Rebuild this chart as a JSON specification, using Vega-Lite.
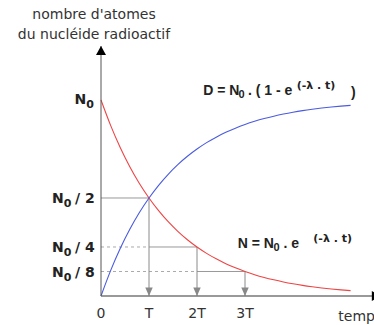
{
  "$schema": "https://vega.github.io/schema/vega-lite/v6.json",
  "width": 273,
  "height": 250,
  "autosize": {"type": "none"},
  "padding": {"left": 101, "top": 46, "right": 0, "bottom": 29},
  "background": "white",
  "config": {"view": {"stroke": null}},
  "encoding": {
    "x": {"field": "t", "type": "quantitative", "scale": {"domain": [0, 5.6875], "nice": false, "zero": false}, "axis": null},
    "y": {"field": "v", "type": "quantitative", "scale": {"domain": [0, 1.2755], "nice": false, "zero": false}, "axis": null}
  },
  "layer": [
    {
      "data": {"values": [{"t": 0, "t2": 1, "v": 0.25}, {"t": 0, "t2": 2, "v": 0.125}]},
      "mark": {"type": "rule", "color": "#aaaaaa", "strokeWidth": 1, "strokeDash": [3, 3]},
      "encoding": {"x2": {"field": "t2"}}
    },
    {
      "data": {"values": [{"t": 0, "t2": 1, "v": 0.5}, {"t": 1, "t2": 2, "v": 0.25}, {"t": 2, "t2": 3, "v": 0.125}]},
      "mark": {"type": "rule", "color": "#999999", "strokeWidth": 1},
      "encoding": {"x2": {"field": "t2"}}
    },
    {
      "data": {"values": [{"t": 1, "v": 0.5}, {"t": 2, "v": 0.25}, {"t": 3, "v": 0.125}]},
      "mark": {"type": "rule", "color": "#8a8a8a", "strokeWidth": 1},
      "encoding": {"y2": {"datum": 0}}
    },
    {
      "data": {"values": [{"t": 1, "v": 0}, {"t": 2, "v": 0}, {"t": 3, "v": 0}]},
      "mark": {"type": "point", "shape": "M-0.75,-1.7L0.75,-1.7L0,0Z", "filled": true, "size": 100, "color": "#888888", "opacity": 1}
    },
    {
      "data": {"values": [
        {"t": 0, "v": 1}, {"t": 0.2, "v": 0.8706}, {"t": 0.4, "v": 0.7579}, {"t": 0.6, "v": 0.6598}, {"t": 0.8, "v": 0.5743},
        {"t": 1, "v": 0.5}, {"t": 1.2, "v": 0.4353}, {"t": 1.4, "v": 0.3789}, {"t": 1.6, "v": 0.3299}, {"t": 1.8, "v": 0.2872},
        {"t": 2, "v": 0.25}, {"t": 2.2, "v": 0.2176}, {"t": 2.4, "v": 0.1895}, {"t": 2.6, "v": 0.1649}, {"t": 2.8, "v": 0.1436},
        {"t": 3, "v": 0.125}, {"t": 3.2, "v": 0.1088}, {"t": 3.4, "v": 0.0947}, {"t": 3.6, "v": 0.0825}, {"t": 3.8, "v": 0.0718},
        {"t": 4, "v": 0.0625}, {"t": 4.2, "v": 0.0544}, {"t": 4.4, "v": 0.0474}, {"t": 4.6, "v": 0.0412}, {"t": 4.8, "v": 0.0359},
        {"t": 5, "v": 0.03125}, {"t": 5.2, "v": 0.0272}
      ]},
      "mark": {"type": "line", "color": "#ee4444", "strokeWidth": 1.1, "interpolate": "monotone"}
    },
    {
      "data": {"values": [
        {"t": 0, "v": 0}, {"t": 0.2, "v": 0.1294}, {"t": 0.4, "v": 0.2421}, {"t": 0.6, "v": 0.3402}, {"t": 0.8, "v": 0.4257},
        {"t": 1, "v": 0.5}, {"t": 1.2, "v": 0.5647}, {"t": 1.4, "v": 0.6211}, {"t": 1.6, "v": 0.6701}, {"t": 1.8, "v": 0.7128},
        {"t": 2, "v": 0.75}, {"t": 2.2, "v": 0.7824}, {"t": 2.4, "v": 0.8105}, {"t": 2.6, "v": 0.8351}, {"t": 2.8, "v": 0.8564},
        {"t": 3, "v": 0.875}, {"t": 3.2, "v": 0.8912}, {"t": 3.4, "v": 0.9053}, {"t": 3.6, "v": 0.9175}, {"t": 3.8, "v": 0.9282},
        {"t": 4, "v": 0.9375}, {"t": 4.2, "v": 0.9456}, {"t": 4.4, "v": 0.9526}, {"t": 4.6, "v": 0.9588}, {"t": 4.8, "v": 0.9641},
        {"t": 5, "v": 0.96875}, {"t": 5.2, "v": 0.9728}
      ]},
      "mark": {"type": "line", "color": "#4a5bdf", "strokeWidth": 1.1, "interpolate": "monotone"}
    },
    {
      "data": {"values": [{"t": 0, "t2": 5.83, "v": 0}]},
      "mark": {"type": "rule", "color": "#777777", "strokeWidth": 1.6},
      "encoding": {"x2": {"field": "t2"}}
    },
    {
      "data": {"values": [{"t": 0, "v": 0, "v2": 1.2755}]},
      "mark": {"type": "rule", "color": "#555555", "strokeWidth": 1},
      "encoding": {"y2": {"field": "v2"}}
    },
    {
      "data": {"values": [{"t": 0, "v": 1.2755}]},
      "mark": {"type": "point", "shape": "M-1,1.8L1,1.8L0,0Z", "filled": true, "size": 100, "color": "#000000", "opacity": 1}
    },
    {
      "data": {"values": [{"t": 5.83, "v": 0}]},
      "mark": {"type": "point", "shape": "M-1.8,-1L-1.8,1L0,0Z", "filled": true, "size": 100, "color": "#000000", "opacity": 1}
    },
    {
      "data": {"values": [
        {"t": -0.552, "v": 1.008, "txt": "N"},
        {"t": -1.02, "v": 0.5, "txt": "N"}, {"t": -0.54, "v": 0.5, "txt": "/ 2"},
        {"t": -1.02, "v": 0.25, "txt": "N"}, {"t": -0.54, "v": 0.25, "txt": "/ 4"},
        {"t": -1.02, "v": 0.125, "txt": "N"}, {"t": -0.54, "v": 0.125, "txt": "/ 8"}
      ]},
      "mark": {"type": "text", "align": "left", "baseline": "alphabetic", "dy": 5.5, "font": "DejaVu Sans", "fontWeight": "bold", "fontSize": 14, "color": "#222222"},
      "encoding": {"text": {"field": "txt"}}
    },
    {
      "data": {"values": [
        {"t": -0.305, "v": 1.008, "txt": "0"},
        {"t": -0.776, "v": 0.5, "txt": "0"},
        {"t": -0.776, "v": 0.25, "txt": "0"},
        {"t": -0.776, "v": 0.125, "txt": "0"}
      ]},
      "mark": {"type": "text", "align": "left", "baseline": "alphabetic", "dy": 9.5, "font": "DejaVu Sans", "fontWeight": "bold", "fontSize": 11, "color": "#222222"},
      "encoding": {"text": {"field": "txt"}}
    },
    {
      "data": {"values": [
        {"t": 2.131, "v": 1.027, "txt": "D = N"},
        {"t": 3.06, "v": 1.027, "txt": ". ( 1 - e"},
        {"t": 5.208, "v": 1.015, "txt": ")"},
        {"t": 2.848, "v": 0.245, "txt": "N = N"},
        {"t": 3.8, "v": 0.245, "txt": ". e"}
      ]},
      "mark": {"type": "text", "align": "left", "baseline": "alphabetic", "font": "Liberation Sans", "fontWeight": "bold", "fontSize": 14, "color": "#222222"},
      "encoding": {"text": {"field": "txt"}}
    },
    {
      "data": {"values": [
        {"t": 2.865, "v": 1.027, "txt": "0"},
        {"t": 3.594, "v": 0.245, "txt": "0"}
      ]},
      "mark": {"type": "text", "align": "left", "baseline": "alphabetic", "dy": 3.5, "font": "Liberation Sans", "fontWeight": "bold", "fontSize": 11, "color": "#222222"},
      "encoding": {"text": {"field": "txt"}}
    },
    {
      "data": {"values": [
        {"t": 4.077, "v": 1.058, "txt": "(-λ . t)"},
        {"t": 4.423, "v": 0.2755, "txt": "(-λ . t)"}
      ]},
      "mark": {"type": "text", "align": "left", "baseline": "alphabetic", "font": "DejaVu Sans", "fontWeight": "bold", "fontSize": 11, "color": "#222222"},
      "encoding": {"text": {"field": "txt"}}
    },
    {
      "data": {"values": [
        {"t": 0, "v": 0, "txt": "0"}, {"t": 1, "v": 0, "txt": "T"}, {"t": 2, "v": 0, "txt": "2T"}, {"t": 3, "v": 0, "txt": "3T"}
      ]},
      "mark": {"type": "text", "align": "center", "baseline": "alphabetic", "dy": 21.7, "font": "DejaVu Sans", "fontSize": 14, "color": "#333333"},
      "encoding": {"text": {"field": "txt"}}
    },
    {
      "data": {"values": [{"t": 4.944, "v": 0, "txt": "temps"}]},
      "mark": {"type": "text", "align": "left", "baseline": "alphabetic", "dy": 25, "font": "DejaVu Sans", "fontSize": 14, "color": "#333333"},
      "encoding": {"text": {"field": "txt"}}
    },
    {
      "data": {"values": [
        {"t": -0.146, "v": 1.413, "txt": "nombre d'atomes"},
        {"t": -0.146, "v": 1.311, "txt": "du nucléide radioactif"}
      ]},
      "mark": {"type": "text", "align": "center", "baseline": "alphabetic", "font": "DejaVu Sans", "fontSize": 14, "color": "#333333"},
      "encoding": {"text": {"field": "txt"}}
    }
  ]
}
